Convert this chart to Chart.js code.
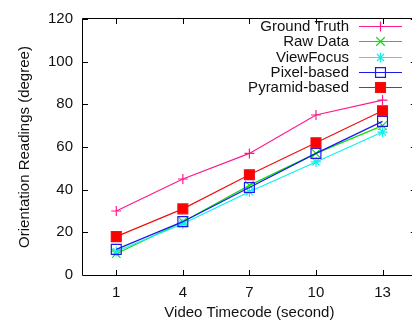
<!DOCTYPE html>
<html>
<head>
<meta charset="utf-8">
<script src="https://cdn.jsdelivr.net/npm/chart.js@4/dist/chart.umd.min.js"></script>
<style>
  html, body { margin: 0; padding: 0; background: #fff; overflow: hidden; }
  #wrap { width: 424px; height: 326px; }
</style>
</head>
<body>
<div id="wrap"><canvas id="orientChart" width="424" height="326"></canvas></div>
<script>
// data
const timecodes = ['1', '4', '7', '10', '13'];
const groundTruth = [30, 45, 57, 75, 82];
const rawData = [10, 25, 42, 57, 70];
const viewFocus = [11, 24, 39, 53, 67];
const pixelBased = [12, 25, 41, 57, 72];
const pyramidBased = [18, 31, 47, 62, 77];
const yTicks = [0, 20, 40, 60, 80, 100, 120];

const FONT = "'Liberation Sans', Arial, Helvetica, sans-serif";

function series(label, data, color, style, radius, fill, order) {
  return {
    label: label,
    data: data,
    borderColor: color,
    backgroundColor: fill,
    borderWidth: 1.2,
    pointStyle: style,
    pointRadius: radius,
    pointHoverRadius: radius,
    pointBorderColor: color,
    pointBackgroundColor: fill,
    pointBorderWidth: 1.2,
    tension: 0,
    order: order
  };
}

// gnuplot-like frame with inward ticks, plus the key in the top right
const framePlugin = {
  id: 'frame',
  afterDatasetsDraw(chart) {
    const ctx = chart.ctx;
    const a = chart.chartArea;
    const xs = chart.scales.x, ys = chart.scales.y;
    ctx.save();
    ctx.strokeStyle = '#000';
    ctx.lineWidth = 1;
    ctx.beginPath();
    ctx.rect(Math.round(a.left) - 0.5, Math.round(a.top) - 0.5,
             Math.round(a.right - a.left) + 1, Math.round(a.bottom - a.top) + 1);
    xs.ticks.forEach((t, i) => {
      const px = Math.round(xs.getPixelForTick(i)) + 0.5;
      ctx.moveTo(px, a.bottom); ctx.lineTo(px, a.bottom - 5);
      ctx.moveTo(px, a.top); ctx.lineTo(px, a.top + 5);
    });
    ys.ticks.forEach((t, i) => {
      const py = Math.round(ys.getPixelForTick(i)) + 0.5;
      ctx.moveTo(a.left, py); ctx.lineTo(a.left + 5, py);
      ctx.moveTo(a.right, py); ctx.lineTo(a.right - 5, py);
    });
    ctx.stroke();
    ctx.restore();

    // key
    chart.data.datasets.forEach((ds, i) => {
      const y = Math.round(26 + i * 15.25) + 0.5;
      ctx.save();
      ctx.font = '15px ' + FONT;
      ctx.textAlign = 'right';
      ctx.textBaseline = 'middle';
      ctx.fillStyle = '#111';
      ctx.fillText(ds.label, 349, y);
      ctx.strokeStyle = ds.borderColor;
      ctx.lineWidth = 1.2;
      ctx.beginPath();
      ctx.moveTo(359, y);
      ctx.lineTo(402, y);
      ctx.stroke();
      ctx.strokeStyle = ds.pointBorderColor;
      ctx.fillStyle = ds.pointBackgroundColor;
      Chart.helpers.drawPoint(ctx, {
        pointStyle: ds.pointStyle,
        radius: ds.pointRadius,
        borderWidth: 1.2,
        rotation: 0
      }, 380.5, y);
      ctx.restore();
    });
  }
};

new Chart(document.getElementById('orientChart').getContext('2d'), {
  type: 'line',
  data: {
    labels: timecodes,
    datasets: [
      series('Ground Truth', groundTruth, '#ff1a8c', 'cross', 5, '#ff1a8c', 5),
      series('Raw Data', rawData, '#11dd11', 'crossRot', 6, '#11dd11', 4),
      series('ViewFocus', viewFocus, '#11eeee', 'star', 5, '#11eeee', 3),
      series('Pixel-based', pixelBased, '#1a1aee', 'rect', 7, 'rgba(0,0,0,0)', 2),
      series('Pyramid-based', pyramidBased, '#ee1111', 'rect', 7, '#ff0000', 1)
    ]
  },
  options: {
    responsive: false,
    animation: false,
    layout: { padding: { top: 14, right: 4, left: 0, bottom: 0 } },
    plugins: {
      legend: { display: false },
      tooltip: { enabled: false }
    },
    scales: {
      x: {
        type: 'category',
        offset: true,
        grid: { display: false, drawTicks: false },
        border: { display: false },
        ticks: { color: '#111', font: { family: FONT, size: 15 }, padding: 9, maxRotation: 0 },
        title: {
          display: true, text: 'Video Timecode (second)', color: '#111',
          font: { family: FONT, size: 15 }, padding: { top: 0, bottom: 4 }
        },
        afterFit(scale) { scale.height = 51; }
      },
      y: {
        min: 0, max: 120,
        afterBuildTicks(scale) { scale.ticks = yTicks.map(v => ({ value: v })); },
        grid: { display: false, drawTicks: false },
        border: { display: false },
        ticks: { color: '#111', font: { family: FONT, size: 15 }, padding: 10 },
        title: {
          display: true, text: 'Orientation Readings (degree)', color: '#111',
          font: { family: FONT, size: 15 }, padding: { top: 16, bottom: 0 }
        },
        afterFit(scale) { scale.width = 83; }
      }
    }
  },
  plugins: [framePlugin]
});
</script>
</body>
</html>
